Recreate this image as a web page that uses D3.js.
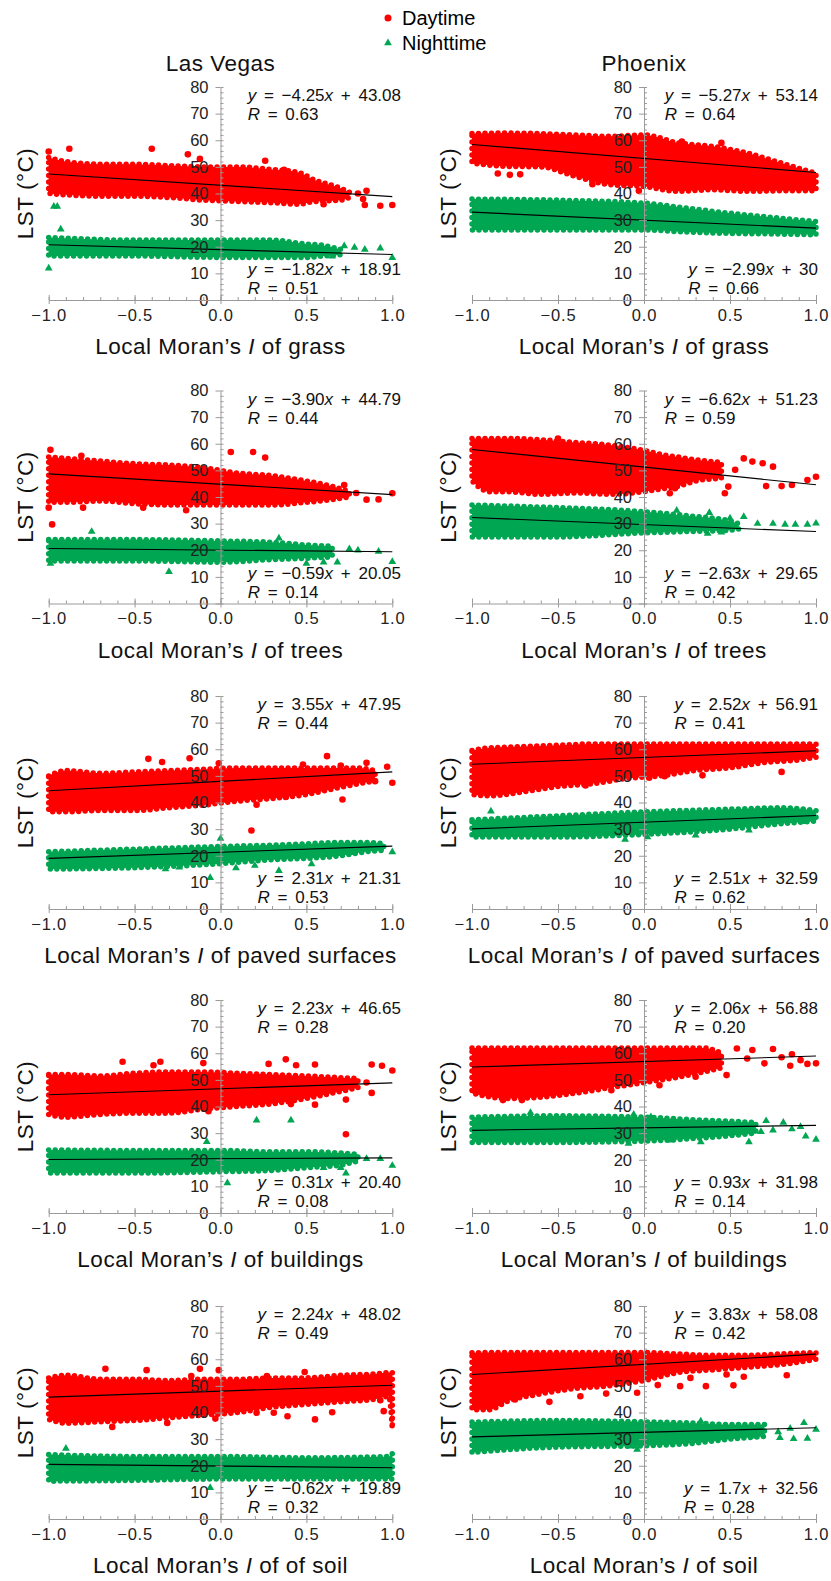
<!DOCTYPE html>
<html>
<head>
<meta charset="utf-8">
<title>LST vs Local Moran's I</title>
<script src="https://d3js.org/d3.v7.min.js"></script>
<style>
  body { margin: 0; background: #fff; }
  svg { display: block; font-family: "Liberation Sans", Arial, sans-serif; }
  .axis path, .axis line { stroke: #9a9a9a; }
  .axis text { fill: #222; font-size: 16.5px; font-family: "Liberation Sans", Arial, sans-serif; }
  .eq { font-size: 17px; fill: #111; word-spacing: 3px; }
  .ttl { font-size: 22.5px; fill: #111; letter-spacing: 0.5px; }
</style>
</head>
<body>
<div id="chart"></div>
<script>
// panel categories
const cities = ["Las Vegas", "Phoenix"];
const covers = ["grass", "trees", "paved surfaces", "buildings", "soil"];
const xTitles = [
  ["grass", "grass"],
  ["trees", "trees"],
  ["paved surfaces", "paved surfaces"],
  ["buildings", "buildings"],
  ["of soil", "soil"]
];
const xTicks = [-1, -0.5, 0, 0.5, 1];
const yTicks = [0, 10, 20, 30, 40, 50, 60, 70, 80];

// point clouds: dense band [x, upper LST, lower LST]
const lvGrassDay = [[-1,53.5,40],[-0.9,52,39.5],[-0.7,51,39],[-0.5,51,39],[-0.3,50.5,38.5],[-0.1,50,37.5],[0.1,50,37],[0.3,49,36.5],[0.45,48,36],[0.55,45,37],[0.7,42,37.5],[0.75,40.5,38.5]];
const lvGrassNight = [[-1,23.5,16.5],[-0.5,22.5,16.5],[0,22.5,16],[0.3,22.5,16],[0.5,21,16],[0.6,20.5,16.5],[0.7,19,17]];
const phxGrassDay = [[-1,62.5,51.4],[-0.8,62.7,50.2],[-0.6,62.5,50],[-0.4,62,46.4],[-0.2,61.5,43.3],[0,62,42.6],[0.2,59,40.8],[0.4,57.7,41.4],[0.6,55.2,40.8],[0.8,51.4,41],[1,47.6,41]];
const phxGrassNight = [[-1,37.9,26.3],[-0.5,37.5,26.3],[0,36.4,26.3],[0.25,34.5,25.5],[0.5,32.6,25],[0.75,31,24.8],[1,29.5,24.5]];
const lvTreesDay = [[-1,55,38],[-0.9,54.5,38],[-0.7,53.5,38.5],[-0.5,52.5,37.5],[-0.3,52,37],[-0.1,51,37],[0.1,49,37],[0.3,48,37],[0.5,46,38],[0.65,44,39],[0.75,42,40]];
const lvTreesNight = [[-1,24,16],[-0.5,24,16],[0,23.5,15.5],[0.3,23,16.5],[0.5,22,17],[0.65,21.5,17.5]];
const phxTreesDay = [[-1,62,46],[-0.9,62,42],[-0.8,62,42],[-0.6,61.5,41],[-0.4,60.5,41.5],[-0.2,59.5,41],[0,57.5,42],[0.1,56,43],[0.2,55,44],[0.3,54,46],[0.45,53,47]];
const phxTreesNight = [[-1,37,25],[-0.5,36,25],[0,34.5,26.5],[0.25,33,27],[0.5,31,27.5],[0.55,30,28]];
const lvPavedDay = [[-1,50,36.5],[-0.9,52,36.5],[-0.7,51,37],[-0.5,51.5,37],[-0.3,52,38],[-0.1,52.5,39],[0.1,53,40.5],[0.3,53,41.5],[0.5,53,43],[0.65,53,45],[0.8,53,47],[0.9,52,48]];
const lvPavedNight = [[-1,21.5,15],[-0.5,22.5,15.5],[0,23.5,17],[0.3,24,18.5],[0.5,24.5,19],[0.7,25,20],[0.85,25,21.5],[0.95,24.5,22]];
const phxPavedDay = [[-1,59.5,43],[-0.9,60.5,42.5],[-0.7,61,44],[-0.5,61.5,46],[-0.3,62,47],[-0.1,62,49],[0.1,62,50],[0.3,62,52],[0.5,62,53],[0.7,62,55],[0.9,62,56],[1,62,57]];
const phxPavedNight = [[-1,33.5,27],[-0.5,35,27],[0,36.5,28],[0.5,37.5,30],[0.8,38,32],[1,37,33]];
const lvBuildDay = [[-1,52,37],[-0.9,52,36],[-0.7,51.5,37],[-0.5,52.5,37.5],[-0.3,53,37.5],[-0.1,53,39],[0.1,52.5,40],[0.3,52,41],[0.5,51.5,43],[0.65,51,45],[0.8,50.5,47]];
const lvBuildNight = [[-1,23.7,15],[-0.5,23.5,15],[0,23.5,15.5],[0.3,23,16],[0.5,23,17],[0.7,22.5,18],[0.8,22,19.5]];
const phxBuildDay = [[-1,62,45],[-0.8,62,43],[-0.6,62,43.5],[-0.4,62,45],[-0.2,62,47],[0,62,49],[0.2,62,51],[0.35,62,53],[0.45,60,54.5]];
const phxBuildNight = [[-1,36,26.5],[-0.5,36.5,26.5],[0,36,27],[0.3,35,28],[0.5,34.5,29],[0.65,34,30]];
const lvSoilDay = [[-1,53,37.4],[-0.9,54,36],[-0.7,52.5,36.5],[-0.5,52.5,37],[-0.3,52,38],[-0.1,52.5,39],[0.1,52.5,40],[0.3,53,42],[0.5,53,43],[0.7,54,44],[0.9,54.5,45],[0.98,55,46],[1,55,34]];
const lvSoilNight = [[-1,24.2,14.2],[-0.5,23.5,14.5],[0,23.5,15],[0.5,23,15],[0.98,23.5,15],[1,24.5,15]];
const phxSoilDay = [[-1,62.4,41.1],[-0.9,62.5,41],[-0.8,62.5,44],[-0.6,62.5,47],[-0.4,62.5,49],[-0.2,62.5,50],[0,62.5,52],[0.2,62,55],[0.4,61.5,56],[0.6,61.5,57],[0.8,62,58],[1,62.5,60]];
const phxSoilNight = [[-1,36.4,25],[-0.5,37,27],[0,36.5,27.5],[0.3,36,28.5],[0.5,35.5,30],[0.7,35.5,31]];

// scattered points outside the dense band [x, LST]
const lvGrassDayPts = [[-1,55.8],[-0.88,56.8],[-0.4,56.8],[-0.19,54.7],[-0.12,53],[0.26,52.3],[0.37,48.9],[0.83,37.9],[0.85,41],[0.84,35.7],[0.93,35.4],[1,35.7],[0.6,36],[0.8,40]];
const lvGrassNightPts = [[-0.97,35.1],[-0.95,35.1],[-0.93,26.6],[-1,11.9],[0.78,19.7],[0.84,19],[0.93,19.4],[1,15.9],[0.72,20.3],[0.65,16.4]];
const phxGrassDayPts = [[-0.85,47.5],[-0.78,47],[-0.72,47.2],[-0.3,43.5],[-0.03,41],[0.22,59.5],[0.45,59]];
const phxGrassNightPts = [];
const lvTreesDayPts = [[-0.99,57.7],[-0.98,29.7],[-1,36],[-0.81,55.5],[0.06,56.9],[0.19,56.9],[0.26,54.8],[0.72,44.5],[0.79,41.5],[0.85,39],[0.92,39.1],[1,41.4],[-0.8,36],[-0.45,36],[-0.2,35]];
const lvTreesNightPts = [[-0.75,27],[-0.99,15],[-0.3,11.9],[0.34,24.5],[0.75,20.5],[0.8,20],[0.92,19.5],[1,15.7],[0.6,15.5],[0.5,15],[0.68,15.5]];
const phxTreesDayPts = [[-0.5,62],[0.47,41.4],[0.49,43.9],[0.53,50.2],[0.42,50.2],[0.63,53.3],[0.69,52.7],[0.75,51.4],[0.71,44.1],[0.8,44.1],[0.86,44.5],[0.95,46.4],[1,47.6],[0.18,43.3],[0.15,41.4],[0.58,54.5]];
const phxTreesNightPts = [[0.19,34.9],[0.38,34.1],[0.5,32],[0.58,32.6],[0.66,30],[0.75,30],[0.82,29.7],[0.88,29.7],[0.95,29.7],[1,30.1],[0.16,27.6],[0.37,26.3],[0.45,26.8]];
const lvPavedDayPts = [[-0.42,56.4],[-0.34,55.2],[-0.18,56.6],[-0.01,54.7],[0.48,54.3],[0.62,57.4],[0.7,53.9],[0.85,54.9],[0.97,53.4],[1,47.4],[0.71,41.1],[0.9,48],[0.38,42.1],[0.18,29.5],[0.21,39.2],[0.09,42.4]];
const lvPavedNightPts = [[0,26.5],[-0.06,11.7],[-0.32,15],[-0.24,15.7],[0.09,15.4],[0.2,16.3],[0.34,14.4],[0.53,16.9],[1,21.4],[0.77,21.1]];
const phxPavedDayPts = [[-0.34,46.4],[0.34,50.2],[0.8,51.5],[0.03,49.3],[0.12,49.9]];
const phxPavedNightPts = [[-0.89,36.7],[-0.11,26.1],[0.02,27],[0.3,27.7],[0.61,29.6],[0.92,32.8]];
const lvBuildDayPts = [[-0.57,56.8],[-0.39,55.5],[-0.35,56.8],[-0.1,56.3],[0.38,57.7],[0.28,56],[0.44,55.5],[0.55,55.8],[0.88,55.8],[0.94,55.3],[1,53.5],[0.88,45.1],[0.73,42.6],[0.41,40.9],[0.55,40.7],[0.73,29.6],[-0.07,38.2],[0.85,49]];
const lvBuildNightPts = [[-0.08,26.8],[0.21,34.8],[0.41,34.8],[0.04,11.3],[0.7,17],[0.73,14.9],[1,17.8],[0.85,20.4],[0.93,20.4],[0.6,17]];
const phxBuildDayPts = [[0.54,61.8],[0.63,61.2],[0.75,61.6],[0.86,59.6],[0.91,57.4],[1,56.2],[0.85,55.3],[0.7,56.2],[0.48,51.8],[0.3,51.2],[0.09,48],[0,49.5],[-0.19,46.1],[-0.82,42.4],[-0.71,42.4],[-0.59,45.5],[0.6,58],[0.8,58.5],[0.95,56]];
const phxBuildNightPts = [[1,27.6],[0.94,28.8],[0.91,32.4],[0.86,31.5],[0.75,31.1],[0.68,30.5],[0.61,26.7],[0.33,26.7],[0.16,27.3],[-0.09,26.1],[0.04,36.1],[-0.06,37],[-0.66,37.7],[0.81,34],[0.71,34.6]];
const lvSoilDayPts = [[-0.67,56.4],[-0.43,55.9],[-0.12,56.4],[-0.01,55.9],[0.49,55.2],[0.27,53.7],[-0.17,53.7],[-0.63,34.6],[-0.31,36.1],[-0.03,37.7],[0.39,38.6],[0.55,37.4],[0.65,40.1],[0.93,44.6],[0.95,40.5],[0.31,39.9],[0.21,39.9]];
const lvSoilNightPts = [[-0.9,26.5],[-0.06,11.7]];
const phxSoilDayPts = [[0.83,54],[0.52,50.2],[0.58,53.4],[0.48,54.3],[0.36,49.9],[0.21,49.9],[0.27,53],[0.08,50.3],[-0.04,47.4],[-0.22,47.1],[-0.37,46.1],[-0.55,44],[-0.75,44.9]];
const phxSoilNightPts = [[0.93,36.1],[1,33.6],[0.95,30.2],[0.87,30.1],[0.79,30.5],[0.78,32.7],[0.65,31.1],[0.33,36.7],[-0.04,26.1],[-0.08,27.3],[0.85,34],[0.6,32.4]];

// regression fits: [slope, intercept, R] as printed
const lvGrassFit = [["-4.25","43.08","0.63"], ["-1.82","18.91","0.51"]];
const phxGrassFit = [["-5.27","53.14","0.64"], ["-2.99","30","0.66"]];
const lvTreesFit = [["-3.90","44.79","0.44"], ["-0.59","20.05","0.14"]];
const phxTreesFit = [["-6.62","51.23","0.59"], ["-2.63","29.65","0.42"]];
const lvPavedFit = [["3.55","47.95","0.44"], ["2.31","21.31","0.53"]];
const phxPavedFit = [["2.52","56.91","0.41"], ["2.51","32.59","0.62"]];
const lvBuildFit = [["2.23","46.65","0.28"], ["0.31","20.40","0.08"]];
const phxBuildFit = [["2.06","56.88","0.20"], ["0.93","31.98","0.14"]];
const lvSoilFit = [["2.24","48.02","0.49"], ["-0.62","19.89","0.32"]];
const phxSoilFit = [["3.83","58.08","0.42"], ["1.7","32.56","0.28"]];

const panels = [
  [[lvGrassDay, lvGrassNight, lvGrassDayPts, lvGrassNightPts, lvGrassFit], [phxGrassDay, phxGrassNight, phxGrassDayPts, phxGrassNightPts, phxGrassFit]],
  [[lvTreesDay, lvTreesNight, lvTreesDayPts, lvTreesNightPts, lvTreesFit], [phxTreesDay, phxTreesNight, phxTreesDayPts, phxTreesNightPts, phxTreesFit]],
  [[lvPavedDay, lvPavedNight, lvPavedDayPts, lvPavedNightPts, lvPavedFit], [phxPavedDay, phxPavedNight, phxPavedDayPts, phxPavedNightPts, phxPavedFit]],
  [[lvBuildDay, lvBuildNight, lvBuildDayPts, lvBuildNightPts, lvBuildFit], [phxBuildDay, phxBuildNight, phxBuildDayPts, phxBuildNightPts, phxBuildFit]],
  [[lvSoilDay, lvSoilNight, lvSoilDayPts, lvSoilNightPts, lvSoilFit], [phxSoilDay, phxSoilNight, phxSoilDayPts, phxSoilNightPts, phxSoilFit]]
];

const width = 831, height = 1581;
const RED = "#ff0000", GREEN = "#00a651";
const colRange = [[48.7, 392.3], [472, 816]];
const eqRight = [401, 818];
const yLabelX = [25, 448];
const rowY0 = [300, 603.5, 909, 1213, 1519];
const plotH = 213;

const svg = d3.select("#chart").append("svg")
  .attr("width", width).attr("height", height);

const minus = s => s.replace("-", "\u2212");

// legend
const leg = svg.append("g");
leg.append("circle").attr("cx", 388).attr("cy", 18).attr("r", 3.5).attr("fill", RED);
leg.append("path").attr("d", d3.symbol(d3.symbolTriangle, 26)())
  .attr("transform", "translate(388,43)").attr("fill", GREEN);
leg.append("text").attr("x", 402).attr("y", 25).attr("font-size", 20).text("Daytime");
leg.append("text").attr("x", 402).attr("y", 50).attr("font-size", 20).text("Nighttime");

// city titles
cities.forEach((c, ci) => {
  const x = d3.scaleLinear().domain([-1, 1]).range(colRange[ci]);
  svg.append("text").attr("class", "ttl").attr("x", x(0)).attr("y", 71)
    .attr("text-anchor", "middle").text(c);
});

function equation(g, xr, y, fit) {
  const t = g.append("text").attr("class", "eq").attr("x", xr).attr("y", y).attr("text-anchor", "end");
  t.append("tspan").attr("font-style", "italic").text("y");
  t.append("tspan").text(" = " + minus(fit[0]));
  t.append("tspan").attr("font-style", "italic").text("x");
  t.append("tspan").text(" + " + fit[1]);
  const w = t.node().getComputedTextLength();
  const r = g.append("text").attr("class", "eq").attr("x", xr - w).attr("y", y + 19);
  r.append("tspan").attr("font-style", "italic").text("R");
  r.append("tspan").text(" = " + fit[2]);
}

panels.forEach((row, ri) => {
  row.forEach((p, ci) => {
    const [day, night, dayPts, nightPts, fit] = p;
    const x = d3.scaleLinear().domain([-1, 1]).range(colRange[ci]);
    const y = d3.scaleLinear().domain([0, 80]).range([rowY0[ri], rowY0[ri] - plotH]);
    const g = svg.append("g");

    const area = d3.area().curve(d3.curveMonotoneX)
      .x(d => x(d[0])).y0(d => y(d[2])).y1(d => y(d[1]));

    [[day, RED], [night, GREEN]].forEach(([band, col]) => {
      g.append("path").attr("d", area(band)).attr("fill", col)
        .attr("stroke", col).attr("stroke-width", 5.5)
        .attr("stroke-linecap", "round").attr("stroke-dasharray", "0 6.5");
    });

    g.selectAll(".dpt").data(dayPts).join("circle")
      .attr("cx", d => x(d[0])).attr("cy", d => y(d[1])).attr("r", 3.3).attr("fill", RED);
    g.selectAll(".npt").data(nightPts).join("path")
      .attr("d", d3.symbol(d3.symbolTriangle, 26)())
      .attr("transform", d => `translate(${x(d[0])},${y(d[1])})`).attr("fill", GREEN);

    // regression lines
    fit.forEach(f => {
      const m = +f[0], b = +f[1];
      g.append("line").attr("x1", x(-1)).attr("y1", y(b - m)).attr("x2", x(1)).attr("y2", y(b + m))
        .attr("stroke", "#000").attr("stroke-width", 1.1);
    });

    // axes
    g.append("g").attr("class", "axis").attr("transform", `translate(${x(0)},0)`)
      .call(d3.axisRight(y).tickValues(d3.range(0, 81, 2)).tickSize(3).tickFormat(""))
      .call(a => a.select(".domain").remove());
    g.append("g").attr("class", "axis").attr("transform", `translate(${x(0)},0)`)
      .call(d3.axisLeft(y).tickValues(yTicks).tickSize(5).tickPadding(7).tickSizeOuter(0));
    g.append("g").attr("class", "axis").attr("transform", `translate(0,${y(0)})`)
      .call(d3.axisTop(x).tickValues(d3.range(-10, 11).map(v => v / 10)).tickSize(3).tickFormat(""))
      .call(a => a.select(".domain").remove());
    g.append("g").attr("class", "axis").attr("transform", `translate(0,${y(0)})`)
      .call(d3.axisTop(x).tickValues(xTicks).tickSize(5).tickFormat(""))
      .call(a => a.select(".domain").remove());
    g.append("g").attr("class", "axis").attr("transform", `translate(0,${y(0)})`)
      .call(d3.axisBottom(x).tickValues(xTicks).tickSize(4).tickPadding(5).tickSizeOuter(0)
        .tickFormat(d3.format(".1f")))
      .selectAll("text").attr("letter-spacing", "0.8px");

    // equations
    equation(g, eqRight[ci], y(80) + 14, fit[0]);
    equation(g, eqRight[ci], y(0) - 25, fit[1]);

    // axis titles
    g.append("text").attr("class", "ttl")
      .attr("transform", `translate(${yLabelX[ci]},${y(40)}) rotate(-90)`)
      .attr("text-anchor", "middle").attr("dy", "0.36em").text("LST (\u00B0C)");
    const xt = g.append("text").attr("class", "ttl").attr("x", x(0)).attr("y", y(0) + 54)
      .attr("text-anchor", "middle");
    xt.append("tspan").text("Local Moran\u2019s ");
    xt.append("tspan").attr("font-style", "italic").text("I");
    xt.append("tspan").text(" of " + xTitles[ri][ci]);
  });
});
</script>
</body>
</html>
